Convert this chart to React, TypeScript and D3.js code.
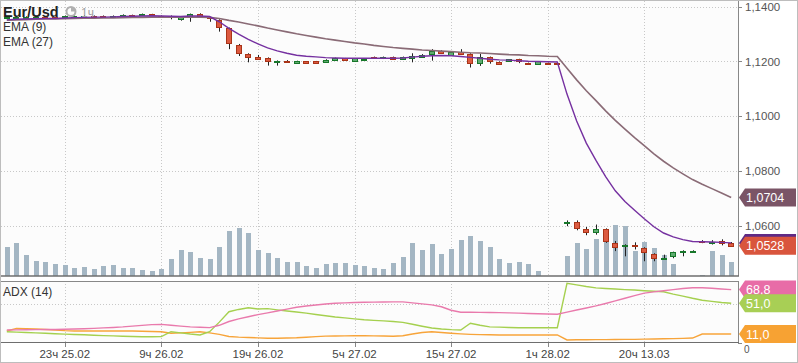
import React from "react";
import * as d3 from "d3";

const W = 798;
const H = 363;

// hourly candles, Eur/Usd
const opens = [
  1.1359, 1.1360, 1.1360, 1.1360, 1.1362, 1.1362, 1.1364, 1.1364, 1.1364, 1.1367,
  1.1367, 1.1364, 1.1366, 1.1370, 1.1369, 1.1373, 1.1367, 1.1367, 1.1354, 1.1364,
  1.1373, 1.1361, 1.1352, 1.1321, 1.1260, 1.1228, 1.1217, 1.1213, 1.1197, 1.1203,
  1.1196, 1.1200, 1.1200, 1.1198, 1.1206, 1.1211, 1.1203, 1.1205, 1.1217, 1.1211,
  1.1216, 1.1208, 1.1214, 1.1218, 1.1227, 1.1239, 1.1225, 1.1236, 1.1228, 1.1194,
  1.1216, 1.1199, 1.1201, 1.1208, 1.1195, 1.1192, 1.1195, 1.1195, 1.0610, 1.0615,
  1.0590, 1.0577, 1.0589, 1.0538, 1.0528, 1.0532, 1.0520, 1.0498, 1.0480, 1.0489,
  1.0505, 1.0505, 1.0545, 1.0538, 1.0544, 1.0538,
];
const highs = [
  1.1364, 1.1365, 1.1365, 1.1366, 1.1364, 1.1363, 1.1368, 1.1368, 1.1369, 1.1368,
  1.1368, 1.1368, 1.1372, 1.1371, 1.1375, 1.1374, 1.1368, 1.1368, 1.1362, 1.1375,
  1.1376, 1.1363, 1.1354, 1.1324, 1.1264, 1.1230, 1.1224, 1.1215, 1.1204, 1.1205,
  1.1203, 1.1201, 1.1202, 1.1208, 1.1214, 1.1213, 1.1212, 1.1211, 1.1218, 1.1218,
  1.1218, 1.1218, 1.1230, 1.1227, 1.1245, 1.1241, 1.1236, 1.1245, 1.1230, 1.1228,
  1.1218, 1.1200, 1.1209, 1.1210, 1.1196, 1.1201, 1.1196, 1.1196, 1.0620, 1.0620,
  1.0596, 1.0605, 1.0591, 1.0545, 1.0533, 1.0540, 1.0522, 1.0500, 1.0495, 1.0506,
  1.0511, 1.0511, 1.0548, 1.0548, 1.0551, 1.0541,
];
const lows = [
  1.1357, 1.1359, 1.1358, 1.1359, 1.1358, 1.1357, 1.1363, 1.1363, 1.1363, 1.1363,
  1.1362, 1.1363, 1.1365, 1.1365, 1.1368, 1.1368, 1.1362, 1.1354, 1.1349, 1.1345,
  1.1362, 1.1345, 1.1309, 1.1245, 1.1220, 1.1197, 1.1206, 1.1185, 1.1185, 1.1195,
  1.1194, 1.1192, 1.1192, 1.1196, 1.1204, 1.1203, 1.1201, 1.1203, 1.1210, 1.1209,
  1.1206, 1.1206, 1.1197, 1.1216, 1.1203, 1.1228, 1.1223, 1.1226, 1.1178, 1.1184,
  1.1192, 1.1190, 1.1199, 1.1194, 1.1188, 1.1190, 1.1189, 1.1189, 1.0599, 1.0584,
  1.0566, 1.0568, 1.0538, 1.0508, 1.0489, 1.0514, 1.0471, 1.0471, 1.0477, 1.0482,
  1.0489, 1.0504, 1.0537, 1.0532, 1.0529, 1.0524,
];
const closes = [
  1.1362, 1.1364, 1.1364, 1.1364, 1.1359, 1.1359, 1.1367, 1.1367, 1.1367, 1.1364,
  1.1364, 1.1367, 1.1371, 1.1366, 1.1373, 1.1369, 1.1364, 1.1361, 1.1361, 1.1373,
  1.1364, 1.1358, 1.1327, 1.1267, 1.1230, 1.1218, 1.1210, 1.1200, 1.1202, 1.1197,
  1.1202, 1.1194, 1.1194, 1.1206, 1.1212, 1.1206, 1.1211, 1.1209, 1.1212, 1.1216,
  1.1208, 1.1216, 1.1220, 1.1224, 1.1239, 1.1230, 1.1234, 1.1228, 1.1194, 1.1216,
  1.1200, 1.1192, 1.1208, 1.1200, 1.1190, 1.1200, 1.1190, 1.1190, 1.0615, 1.0591,
  1.0577, 1.0589, 1.0544, 1.0522, 1.0532, 1.0527, 1.0504, 1.0482, 1.0483, 1.0504,
  1.0510, 1.0510, 1.0540, 1.0543, 1.0538, 1.0528,
];
const volumes = [
  29, 33, 21, 15, 14, 12, 11, 8, 9, 7,
  10, 11, 8, 8, 6, 5, 7, 17, 26, 24,
  18, 17, 29, 45, 48, 43, 26, 23, 18, 14,
  14, 10, 8, 12, 13, 13, 11, 10, 8, 7,
  13, 19, 33, 26, 32, 22, 27, 36, 40, 35,
  29, 17, 13, 14, 12, 5, 0, 0, 20, 33,
  27, 37, 47, 51, 50, 25, 34, 28, 21, 12,
  0, 0, 1, 25, 21, 14,
];
const ema9 = [
  1.1352, 1.1354, 1.1355, 1.1356, 1.1357, 1.1357, 1.1359, 1.1360, 1.1361, 1.1362,
  1.1362, 1.1363, 1.1364, 1.1365, 1.1366, 1.1367, 1.1366, 1.1365, 1.1364, 1.1366,
  1.1366, 1.1364, 1.1345, 1.1321, 1.1300, 1.1281, 1.1264, 1.1250, 1.1239, 1.1230,
  1.1223, 1.1219, 1.1217, 1.1214, 1.1213, 1.1212, 1.1212, 1.1212, 1.1212, 1.1212,
  1.1212, 1.1213, 1.1216, 1.1219, 1.1221, 1.1222, 1.1221, 1.1218, 1.1215, 1.1212,
  1.1208, 1.1206, 1.1205, 1.1203, 1.1201, 1.1200, 1.1199, 1.1198, 1.1081, 1.0983,
  1.0902, 1.0839, 1.0780, 1.0728, 1.0689, 1.0657, 1.0626, 1.0597, 1.0574, 1.0560,
  1.0550, 1.0543, 1.0542, 1.0541, 1.0540, 1.0538,
];
const ema27 = [
  1.1351, 1.1352, 1.1353, 1.1354, 1.1355, 1.1355, 1.1356, 1.1357, 1.1358, 1.1358,
  1.1359, 1.1359, 1.1360, 1.1361, 1.1361, 1.1362, 1.1362, 1.1362, 1.1362, 1.1362,
  1.1362, 1.1361, 1.1357, 1.1350, 1.1344, 1.1337, 1.1330, 1.1322, 1.1315, 1.1308,
  1.1301, 1.1295, 1.1289, 1.1283, 1.1278, 1.1273, 1.1268, 1.1264, 1.1259, 1.1255,
  1.1251, 1.1248, 1.1245, 1.1242, 1.1240, 1.1238, 1.1236, 1.1234, 1.1232, 1.1231,
  1.1229, 1.1227, 1.1225, 1.1224, 1.1222, 1.1221, 1.1219, 1.1218, 1.1175, 1.1133,
  1.1093, 1.1057, 1.1020, 1.0985, 1.0953, 1.0922, 1.0893, 1.0863, 1.0836, 1.0812,
  1.0790, 1.0769, 1.0752, 1.0736, 1.0720, 1.0704,
];
const adx = [
  16.3, 16.4, 16.6, 16.8, 16.9, 17.0, 17.2, 17.5, 17.9, 18.4,
  19.0, 19.6, 20.3, 21.3, 22.3, 23.2, 23.6, 22.5, 21.3, 20.3,
  19.8, 19.3, 22.4, 27.3, 30.8, 33.5, 36.2, 38.6, 40.9, 43.4,
  45.8, 47.4, 48.7, 50.0, 51.1, 51.6, 52.0, 52.3, 52.5, 52.7,
  52.9, 52.8, 51.6, 50.3, 49.0, 46.5, 42.0, 39.4, 39.3, 39.2,
  39.1, 38.9, 38.6, 38.2, 37.8, 37.4, 37.0, 36.7, 39.5, 42.2,
  44.9, 47.6, 50.8, 54.2, 57.6, 61.0, 64.2, 65.8, 67.3, 68.8,
  70.2, 71.3, 71.2, 70.5, 69.6, 68.8,
];
const plusDI = [
  14.0, 13.5, 13.0, 12.5, 12.0, 11.4, 10.9, 10.4, 10.0, 9.5,
  9.0, 8.6, 8.2, 7.8, 7.5, 7.5, 7.6, 14.0, 12.5, 11.0,
  9.8, 14.0, 26.5, 40.0, 43.0, 45.2, 43.5, 44.0, 42.5, 41.0,
  39.7, 38.2, 36.5, 34.8, 33.2, 32.0, 30.8, 29.6, 28.8, 28.1,
  27.4, 26.2, 23.8, 21.2, 18.8, 17.6, 16.8, 16.3, 25.0, 22.5,
  20.3, 20.0, 19.6, 19.2, 19.2, 19.2, 19.2, 19.2, 77.0, 75.0,
  72.8, 71.0, 70.3, 69.6, 68.8, 68.2, 67.4, 66.7, 66.0, 63.0,
  60.3, 57.5, 55.0, 53.5, 52.0, 51.0,
];
const minusDI = [
  15.0, 18.3, 18.0, 17.5, 17.0, 16.3, 15.5, 15.0, 15.0, 15.0,
  15.0, 15.0, 15.0, 15.0, 14.7, 14.3, 14.0, 12.0, 12.5, 13.2,
  14.0, 12.5, 10.5, 7.8, 7.0, 6.5, 6.0, 5.5, 5.6, 5.9,
  6.1, 6.8, 7.6, 8.3, 8.5, 8.6, 8.7, 8.8, 8.6, 8.4,
  8.2, 8.7, 11.0, 13.0, 14.0, 13.0, 12.0, 11.2, 10.6, 10.2,
  10.0, 9.8, 9.8, 9.8, 9.8, 9.8, 9.8, 9.8, 3.3, 3.5,
  3.6, 3.7, 3.8, 3.9, 4.0, 4.1, 4.4, 4.6, 4.8, 5.1,
  5.4, 5.8, 11.0, 11.0, 11.2, 11.0,
];

const tickIdx = [6, 16, 26, 36, 46, 56, 66];
const tickLabels = ["23ч 25.02", "9ч 26.02", "19ч 26.02", "5ч 27.02", "15ч 27.02", "1ч 28.02", "20ч 13.03"];
const priceTicks = [1.06, 1.08, 1.10, 1.12, 1.14];

const FONT = "'Liberation Sans', Arial, sans-serif";
const UP_FILL = "#5fab70";
const UP_STROKE = "#17772a";
const DN_FILL = "#dc5a40";
const DN_STROKE = "#a93418";
const EMA9_C = "#7530a0";
const EMA27_C = "#8a6b76";
const ADX_C = "#e97aac";
const PDI_C = "#a5d04f";
const MDI_C = "#f7a43a";

const fmtPrice = (v: number) => d3.format(".4f")(v).replace(".", ",");
const fmtAdx = (v: number) => d3.format(".1f")(v).replace(".", ",");

function tagPath(y: number) {
  const h = 18;
  return `M739,${y} L745,${y - h / 2} L796,${y - h / 2} L796,${y + h / 2} L745,${y + h / 2} Z`;
}

function Tag({ y, color, text }: { y: number; color: string; text?: string }) {
  return (
    <g>
      <path d={tagPath(y)} fill={color} />
      {text ? <text x={746} y={y + 4.5} fill="#fff" fontSize={12.5} fontFamily={FONT}>{text}</text> : null}
    </g>
  );
}

export default function App() {
  const n = closes.length;
  const x = d3.scaleBand<number>().domain(d3.range(n)).range([2, 736]);
  const cx = (i: number) => (x(i) as number) + x.bandwidth() / 2;

  const y = d3.scaleLinear().domain([1.04, 1.14]).range([280.7, 6.7]);
  const yVol = d3.scaleLinear().domain([0, 100]).range([276, 176]);
  const yAdx = d3.scaleLinear().domain([0, 80]).range([342.5, 281]);

  const priceLine = d3.line<number>().x((_, i) => cx(i)).y(d => y(d));
  const adxLine = d3.line<number>().x((_, i) => cx(i)).y(d => yAdx(d));

  const last = n - 1;

  return (
    <svg width={W} height={H} style={{ position: "absolute", left: 0, top: 0, background: "#fff" }}>
      {/* backgrounds */}
      <rect x={1} y={1} width={737} height={275} fill="#fcfcfc" />
      <rect x={1} y={281} width={737} height={61.5} fill="#fcfcfc" />

      {/* grid */}
      {priceTicks.map(t => (
        <line key={"gy" + t} x1={1} x2={738} y1={Math.round(y(t)) + 0.5} y2={Math.round(y(t)) + 0.5}
          stroke="#c8c8c8" strokeDasharray="1,2" />
      ))}
      {tickIdx.map(i => (
        <g key={"gx" + i}>
          <line x1={Math.round(cx(i)) + 0.5} x2={Math.round(cx(i)) + 0.5} y1={1} y2={276}
            stroke="#c8c8c8" strokeDasharray="1,2" />
          <line x1={Math.round(cx(i)) + 0.5} x2={Math.round(cx(i)) + 0.5} y1={281} y2={342}
            stroke="#c8c8c8" strokeDasharray="1,2" />
        </g>
      ))}
      <line x1={1} x2={738} y1={Math.round(yAdx(50)) + 0.5} y2={Math.round(yAdx(50)) + 0.5}
        stroke="#c8c8c8" strokeDasharray="1,2" />

      {/* volume */}
      {volumes.map((v, i) => v > 0 ? (
        <rect key={"v" + i} x={Math.round(cx(i)) - 2} width={5} y={yVol(v)} height={yVol(0) - yVol(v)} fill="#a4b6c3" />
      ) : null)}

      {/* candles */}
      {closes.map((c, i) => {
        const o = opens[i];
        const up = c >= o;
        const xc = Math.round(cx(i));
        const top = Math.round(y(Math.max(o, c)));
        const bot = Math.round(y(Math.min(o, c)));
        const hgt = Math.max(1, bot - top);
        return (
          <g key={"c" + i}>
            <line x1={xc + 0.5} x2={xc + 0.5} y1={y(highs[i])} y2={y(lows[i])} stroke="#222" strokeWidth={1} />
            <rect x={xc - 2.5} y={top + 0.5} width={5} height={hgt}
              fill={up ? UP_FILL : DN_FILL} stroke={up ? UP_STROKE : DN_STROKE} strokeWidth={1} />
          </g>
        );
      })}

      {/* EMA lines */}
      <path d={priceLine(ema27) || ""} fill="none" stroke={EMA27_C} strokeWidth={1.6} />
      <path d={priceLine(ema9) || ""} fill="none" stroke={EMA9_C} strokeWidth={1.4} />

      {/* ADX lines */}
      <path d={adxLine(minusDI) || ""} fill="none" stroke={MDI_C} strokeWidth={1.4} />
      <path d={adxLine(plusDI) || ""} fill="none" stroke={PDI_C} strokeWidth={1.4} />
      <path d={adxLine(adx) || ""} fill="none" stroke={ADX_C} strokeWidth={1.4} />

      {/* frames */}
      <line x1={738.5} x2={738.5} y1={0} y2={276} stroke="#888" />
      <line x1={0} x2={739} y1={276} y2={276} stroke="#6e6e6e" strokeWidth={1.5} />
      <rect x={0.5} y={281.5} width={738} height={61} fill="none" stroke="#888" />
      <line x1={0} x2={739} y1={342.5} y2={342.5} stroke="#6e6e6e" />
      <rect x={0.5} y={0.5} width={W - 1} height={H - 1} fill="none" stroke="#bdbdbd" />

      {/* right price axis */}
      {priceTicks.map(t => (
        <g key={"pt" + t}>
          <line x1={738} x2={742} y1={Math.round(y(t)) + 0.5} y2={Math.round(y(t)) + 0.5} stroke="#888" />
          <text x={745} y={y(t) + 4} fontSize={11.5} fill="#555" fontFamily={FONT}>{fmtPrice(t)}</text>
        </g>
      ))}
      <line x1={738} x2={742} y1={Math.round(yAdx(0)) + 0.5} y2={Math.round(yAdx(0)) + 0.5} stroke="#888" />
      <text x={744} y={yAdx(0) + 10} fontSize={10} fill="#555" fontFamily={FONT}>0</text>

      {/* x axis */}
      {tickIdx.map((i, k) => (
        <g key={"xt" + i}>
          <line x1={Math.round(cx(i)) + 0.5} x2={Math.round(cx(i)) + 0.5} y1={343} y2={347} stroke="#888" />
          <text x={cx(i)} y={358} textAnchor="middle" fontSize={11.5} fill="#444" fontFamily={FONT}>{tickLabels[k]}</text>
        </g>
      ))}

      {/* last value tags */}
      <Tag y={y(ema27[last])} color="#7a5466" text={fmtPrice(ema27[last])} />
      <Tag y={y(ema9[last])} color="#5f2a85" />
      <Tag y={y(closes[last])} color="#d9553d" text={fmtPrice(closes[last])} />
      <Tag y={yAdx(adx[last])} color="#e86ca7" text={fmtAdx(adx[last])} />
      <Tag y={yAdx(plusDI[last])} color="#a8cf55" text={fmtAdx(plusDI[last])} />
      <Tag y={yAdx(minusDI[last])} color="#f7a233" text={fmtAdx(minusDI[last])} />

      {/* legends */}
      <text x={3} y={17} fontSize={14.5} fontWeight="bold" fill="#222" fontFamily={FONT}>Eur/Usd</text>
      <circle cx={71} cy={11.5} r={4.5} fill="none" stroke="#b0b0b0" strokeWidth={2} />
      <path d="M71,11.5 L71,7 A4.5,4.5 0 0 1 75.5,11.5 Z" fill="#b0b0b0" />
      <text x={81} y={17} fontSize={12} fill="#a0a0a0" fontFamily={FONT}>1ч</text>
      <text x={3} y={31} fontSize={12} fill="#333" fontFamily={FONT}>EMA (9)</text>
      <text x={3} y={46} fontSize={12} fill="#333" fontFamily={FONT}>EMA (27)</text>
      <text x={3} y={296} fontSize={12} fill="#333" fontFamily={FONT}>ADX (14)</text>
    </svg>
  );
}
